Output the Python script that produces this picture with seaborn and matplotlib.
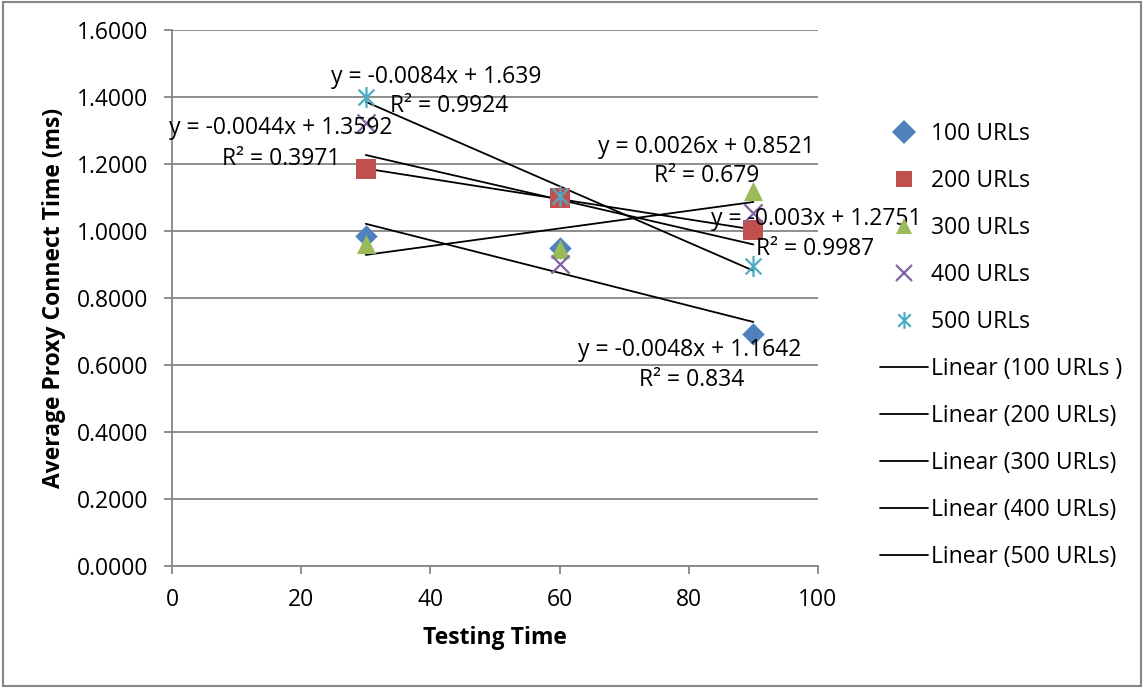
import numpy as np
import pandas as pd
import matplotlib
matplotlib.use("Agg")
import matplotlib.pyplot as plt
from matplotlib.lines import Line2D
from matplotlib.path import Path
import seaborn as sns

# ---- data ----
testing_time = [30, 60, 90]
series_names = ["100 URLs", "200 URLs", "300 URLs", "400 URLs", "500 URLs"]
trend_names = ["Linear (100 URLs )", "Linear (200 URLs)", "Linear (300 URLs)",
               "Linear (400 URLs)", "Linear (500 URLs)"]
urls_100 = [0.985, 0.948, 0.692]
urls_200 = [1.185, 1.098, 1.003]
urls_300 = [0.960, 0.945, 1.118]
urls_400 = [1.322, 0.903, 1.055]
urls_500 = [1.400, 1.105, 0.896]
equations = ["y = -0.0048x + 1.1642", "y = -0.003x + 1.2751", "y = 0.0026x + 0.8521",
             "y = -0.0044x + 1.3592", "y = -0.0084x + 1.639"]
r_squared = ["R² = 0.834", "R² = 0.9987", "R² = 0.679", "R² = 0.3971", "R² = 0.9924"]
y_ticks = [0.0, 0.2, 0.4, 0.6, 0.8, 1.0, 1.2, 1.4, 1.6]
x_ticks = [0, 20, 40, 60, 80, 100]

all_values = [urls_100, urls_200, urls_300, urls_400, urls_500]
colors = ["#4F81BD", "#C0504D", "#9BBB59", "#8064A2", "#4BACC6"]

star = Path([(0, -1), (0, 1), (-0.75, -0.75), (0.75, 0.75), (-0.75, 0.75), (0.75, -0.75)],
            [Path.MOVETO, Path.LINETO, Path.MOVETO, Path.LINETO, Path.MOVETO, Path.LINETO])
markers = ["D", "s", "^", "x", star]
sizes = [130, 190, 190, 170, 230]

# label anchor positions (data coords) for equation / R² annotations
eq_pos = [(80.2, 0.645), (99.7, 1.036), (82.7, 1.251), (16.9, 1.307), (40.9, 1.46)]
r2_pos = [(80.5, 0.555), (99.5, 0.946), (82.8, 1.164), (16.9, 1.215), (42.9, 1.373)]

FS = 16.5
sns.set_theme(style="white")
plt.rcParams["font.family"] = ["Open Sans", "DejaVu Sans"]
plt.rcParams["text.color"] = "black"
plt.rcParams["axes.labelcolor"] = "black"
plt.rcParams["xtick.color"] = "black"
plt.rcParams["ytick.color"] = "black"
grid_col = "#868686"

fig = plt.figure(figsize=(11.48, 6.88), dpi=100)
ax = fig.add_axes([0.1498, 0.1773, 0.5627, 0.7791])

frames = []
for name, vals in zip(series_names, all_values):
    frames.append(pd.DataFrame({"time": testing_time, "value": vals, "series": name}))
df = pd.concat(frames, ignore_index=True)

for name in series_names:
    sub = df[df["series"] == name]
    sns.regplot(data=sub, x="time", y="value", scatter=False, ci=None, ax=ax,
                color="black", line_kws=dict(lw=1.3, zorder=3), truncate=True)
for name, col, mk, sz in zip(series_names, colors, markers, sizes):
    sub = df[df["series"] == name]
    if mk == "x" or isinstance(mk, Path):
        ax.scatter(sub["time"], sub["value"], marker=mk, s=sz, color=col,
                   linewidths=1.6, zorder=4)
    else:
        sns.scatterplot(data=sub, x="time", y="value", marker=mk, s=sz, color=col,
                        edgecolor=col, linewidth=0, ax=ax, zorder=4)

for eq, r2, ep, rp in zip(equations, r_squared, eq_pos, r2_pos):
    ax.text(ep[0], ep[1], eq, ha="center", va="center", fontsize=FS, color="black",
            clip_on=False, zorder=5)
    ax.text(rp[0], rp[1], r2, ha="center", va="center", fontsize=FS, color="black",
            clip_on=False, zorder=5)

ax.set_xlim(0, 100)
ax.set_ylim(0, 1.6)
ax.set_xticks(x_ticks)
ax.set_yticks(y_ticks)
ax.set_yticklabels([f"{v:.4f}" for v in y_ticks])
ax.yaxis.grid(True, color=grid_col, lw=1.3)
ax.xaxis.grid(False)
ax.set_axisbelow(True)
for s in ["top", "right"]:
    ax.spines[s].set_visible(False)
for s in ["left", "bottom"]:
    ax.spines[s].set_color(grid_col)
    ax.spines[s].set_linewidth(1.3)
ax.tick_params(axis="both", which="major", direction="out", length=6, width=1.3,
               color=grid_col, labelsize=FS, labelcolor="black")
ax.tick_params(axis="y", left=True, pad=11)
ax.tick_params(axis="x", bottom=True, pad=10)
ax.set_xlabel("Testing Time", fontsize=FS, fontweight="bold", labelpad=10, color="black")
ax.set_ylabel("Average Proxy Connect Time (ms)", fontsize=FS, fontweight="bold",
              labelpad=8, color="black")

handles = []
for name, col, mk in zip(series_names, colors, markers):
    handles.append(Line2D([], [], ls="none", marker=mk, color=col, markersize=12,
                          markeredgewidth=1.6 if (mk == "x" or isinstance(mk, Path)) else 0))
for tn in trend_names:
    handles.append(Line2D([], [], color="black", lw=1.3))
leg = fig.legend(handles, series_names + trend_names, loc="upper left",
                 bbox_to_anchor=(0.7485, 0.852), frameon=False, fontsize=FS,
                 labelspacing=1.0, handlelength=2.1, handletextpad=0.15)
for t in leg.get_texts():
    t.set_color("black")

fig.patches.append(plt.Rectangle((0.003, 0.003), 0.991, 0.994, transform=fig.transFigure,
                                 fill=False, edgecolor=grid_col, lw=1.5))

fig.savefig("out.png", dpi=100, facecolor="white")
